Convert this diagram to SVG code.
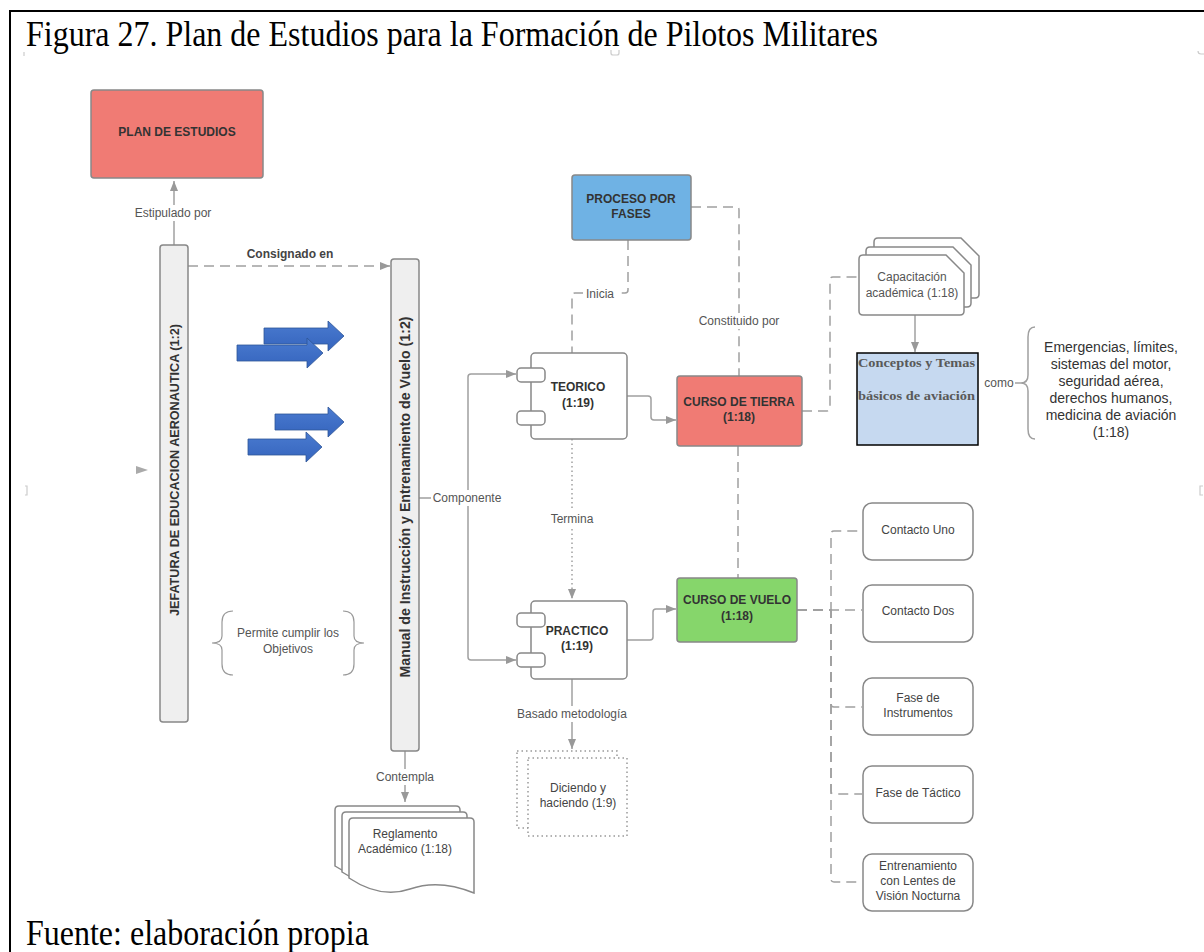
<svg xmlns="http://www.w3.org/2000/svg" width="1204" height="952" viewBox="0 0 1204 952">
<style>
.frame{stroke:#000;stroke-width:2;fill:none}
.cap{font-family:"Liberation Serif","Times New Roman",serif;font-size:32px;fill:#000}
.box{stroke:#888;stroke-width:1.5}
.bt{font-family:"Liberation Sans",Arial,sans-serif;font-size:12px;font-weight:bold;fill:#333;text-anchor:middle}
.lt{font-family:"Liberation Sans",Arial,sans-serif;font-size:12px;fill:#555;text-anchor:middle}
.nt{font-family:"Liberation Sans",Arial,sans-serif;font-size:12px;fill:#444;text-anchor:middle}
.ln{fill:none;stroke:#a0a0a0;stroke-width:1.5}
.dash{stroke-dasharray:10,6}
.dot{stroke-dasharray:1.5,3}
.lbg{fill:#fff}
.blue{fill:url(#bg);stroke:#2e5597;stroke-width:0.8}
.art{fill:none;stroke:#ccc;stroke-width:1.2}
.ct{font-family:"Liberation Serif","Times New Roman",serif;font-size:12.5px;font-weight:bold;fill:#595959}
</style>
<defs>
<marker id="ah" viewBox="0 0 10 10" refX="10" refY="5" markerWidth="11" markerHeight="10" markerUnits="userSpaceOnUse" orient="auto">
<path d="M0,1 L10,5 L0,9 Z" fill="#999"/>
</marker>
<linearGradient id="bg" x1="0" y1="0" x2="0" y2="1">
<stop offset="0" stop-color="#4a7bd0"/>
<stop offset="1" stop-color="#3564bd"/>
</linearGradient>
</defs>
<rect width="1204" height="952" fill="#fff"/>
<g id="frame">
<path class="frame" d="M10,952 V11 H1204"/>
</g>
<text class="cap" transform="translate(26,46) scale(1,1.1)">Figura 27. Plan de Estudios para la Formación de Pilotos Militares</text>
<text class="cap" transform="translate(26,945) scale(1,1.1)">Fuente: elaboración propia</text>

<g id="artifacts">
<path class="art" d="M24,52 v4"/>
<path class="art" d="M611,50 v3 q0,2 2,2 h4 q2,0 2,-2 v-3"/>
<path class="art" d="M1198,51 q0,3 3,3 h3"/>
<path class="art" d="M25,486 h2 v9 h-2"/>
<path class="art" d="M1203,486 h-3 v9 h3"/>
</g>

<g id="connectors">
<path class="ln" d="M174,245 V181" marker-end="url(#ah)"/>
<rect class="lbg" x="133" y="205" width="81" height="16"/>
<text class="lt" x="173" y="217">Estipulado por</text>

<path class="ln dash" d="M188,266 H390" marker-end="url(#ah)"/>
<text class="bt" x="290" y="258" style="fill:#444">Consignado en</text>

<path class="ln" d="M419,498 H468 V377 Q468,374 471,374 H516" marker-end="url(#ah)"/>
<path class="ln" d="M468,498 V657 Q468,660 471,660 H516" marker-end="url(#ah)"/>
<rect class="lbg" x="431" y="490" width="72" height="16"/>
<text class="lt" x="467" y="502">Componente</text>

<path class="ln dash" d="M628,240 V290 Q628,293 625,293 H575 Q572,293 572,296 V353"/>
<rect class="lbg" x="583" y="286" width="34" height="15"/>
<text class="lt" x="600" y="298">Inicia</text>

<path class="ln dash" d="M691,207 H736 Q739,207 739,210 V376"/>
<rect class="lbg" x="695" y="313" width="88" height="16"/>
<text class="lt" x="739" y="325">Constituido por</text>

<path class="ln" d="M627,396 H648 Q651,396 651,399 V417 Q651,420 654,420 H676" marker-end="url(#ah)"/>

<path class="ln dot" d="M572,439 V599" marker-end="url(#ah)"/>
<rect class="lbg" x="548" y="511" width="48" height="16"/>
<text class="lt" x="572" y="523">Termina</text>

<path class="ln dash" d="M738,446 V578"/>

<path class="ln dash" d="M802,411 H827 Q830,411 830,408 V280 Q830,277 833,277 H859"/>

<path class="ln" d="M915,315 V352" marker-end="url(#ah)"/>

<path class="ln" d="M1015,383 H1021"/>
<path class="ln" d="M1035,327 Q1028,327 1028,337 V375 Q1028,383 1021,383 Q1028,383 1028,391 V429 Q1028,439 1035,439"/>
<text class="lt" x="999" y="387">como</text>

<path class="ln" d="M627,640 H650 Q653,640 653,637 V612 Q653,609 656,609 H676" marker-end="url(#ah)"/>

<path class="ln dash" d="M797,610 H862"/>
<path class="ln dash" d="M797,610 H831 V534 Q831,531 834,531 H862"/>
<path class="ln dash" d="M797,610 H831 V704 Q831,707 834,707 H862"/>
<path class="ln dash" d="M797,610 H831 V791 Q831,794 834,794 H862"/>
<path class="ln dash" d="M797,610 H831 V879 Q831,882 834,882 H862"/>

<path class="ln" d="M572,679 V749" marker-end="url(#ah)"/>
<rect class="lbg" x="514" y="706" width="116" height="16"/>
<text class="lt" x="572" y="718">Basado metodología</text>

<path class="ln" d="M405,751 V802" marker-end="url(#ah)"/>
<rect class="lbg" x="373" y="769" width="64" height="16"/>
<text class="lt" x="405" y="781">Contempla</text>

<polygon points="136,466 148,470 136,474" fill="#aaa"/>
</g>

<g id="plan">
<rect class="box" x="91" y="90" width="172" height="88" rx="3" fill="#f07b74"/>
<text class="bt" x="177" y="136">PLAN DE ESTUDIOS</text>
</g>

<g id="jefatura">
<rect class="box" x="160" y="245" width="28" height="477" rx="3" fill="#efefef"/>
<text class="bt" transform="translate(174,470) rotate(-90)" y="4.5" style="font-size:13px" textLength="292" lengthAdjust="spacingAndGlyphs">JEFATURA DE EDUCACION AERONAUTICA (1:2)</text>
</g>

<g id="manual">
<rect class="box" x="391" y="259" width="28" height="492" rx="3" fill="#efefef"/>
<text class="bt" transform="translate(405,497) rotate(-90)" y="5" style="font-size:14px" textLength="361" lengthAdjust="spacingAndGlyphs">Manual de  Instrucción y Entrenamiento de Vuelo (1:2)</text>
</g>

<g id="blue-arrows">
<polygon class="blue" points="264,328 328,328 328,321 344,336 328,351 328,344 264,344"/>
<polygon class="blue" points="237,345 307,345 307,338 323,353 307,368 307,361 237,361"/>
<polygon class="blue" points="275,414 328,414 328,407 344,422 328,437 328,430 275,430"/>
<polygon class="blue" points="248,439 306,439 306,432 322,447 306,462 306,455 248,455"/>
</g>

<g id="permite">
<path class="ln" style="stroke:#999;stroke-width:1.2" d="M233,611 Q222,611 222,622 V636 Q222,643 212,643 Q222,643 222,650 V664 Q222,675 233,675"/>
<path class="ln" style="stroke:#999;stroke-width:1.2" d="M343,611 Q354,611 354,622 V636 Q354,643 364,643 Q354,643 354,650 V664 Q354,675 343,675"/>
<text class="lt" x="288" y="637">Permite cumplir los</text>
<text class="lt" x="288" y="653">Objetivos</text>
</g>

<g id="proceso">
<rect class="box" x="572" y="175" width="119" height="65" rx="3" fill="#6fb2e4"/>
<text class="bt" x="631" y="203">PROCESO POR</text>
<text class="bt" x="631" y="218">FASES</text>
</g>

<g id="teorico">
<rect class="box" x="531" y="353" width="96" height="86" rx="4" fill="#fff"/>
<rect class="box" x="517" y="368" width="28" height="14" rx="4" fill="#fff"/>
<rect class="box" x="517" y="411" width="28" height="14" rx="4" fill="#fff"/>
<text class="bt" x="578" y="391">TEORICO</text>
<text class="bt" x="578" y="407">(1:19)</text>
</g>

<g id="practico">
<rect class="box" x="531" y="601" width="96" height="78" rx="4" fill="#fff"/>
<rect class="box" x="517" y="613" width="28" height="14" rx="4" fill="#fff"/>
<rect class="box" x="517" y="653" width="28" height="14" rx="4" fill="#fff"/>
<text class="bt" x="577" y="635">PRACTICO</text>
<text class="bt" x="577" y="650">(1:19)</text>
</g>

<g id="curso-tierra">
<rect class="box" x="677" y="376" width="125" height="70" rx="3" fill="#f07b74"/>
<text class="bt" x="739" y="406">CURSO DE TIERRA</text>
<text class="bt" x="739" y="421">(1:18)</text>
</g>

<g id="curso-vuelo">
<rect class="box" x="677" y="578" width="120" height="64" rx="3" fill="#86d66b"/>
<text class="bt" x="737" y="604">CURSO DE VUELO</text>
<text class="bt" x="737" y="620">(1:18)</text>
</g>

<g id="capacitacion">
<path class="box" fill="#fff" transform="translate(15,-17)" d="M863,255 H946 L964,273 V311 Q964,315 960,315 H863 Q859,315 859,311 V259 Q859,255 863,255 Z"/>
<path class="box" fill="#fff" transform="translate(7,-8)" d="M863,255 H946 L964,273 V311 Q964,315 960,315 H863 Q859,315 859,311 V259 Q859,255 863,255 Z"/>
<path class="box" fill="#fff" d="M863,255 H946 L964,273 V311 Q964,315 960,315 H863 Q859,315 859,311 V259 Q859,255 863,255 Z"/>
<text class="lt" x="912" y="281">Capacitación</text>
<text class="lt" x="912" y="297">académica (1:18)</text>
</g>

<g id="conceptos">
<rect x="857" y="353" width="121" height="92" fill="#c6d9f0" stroke="#000" stroke-width="1.5"/>
<text class="ct" x="858" y="367" textLength="117" lengthAdjust="spacingAndGlyphs">Conceptos y Temas</text>
<text class="ct" x="858" y="400" textLength="117" lengthAdjust="spacingAndGlyphs">básicos de aviación</text>
</g>

<g id="emergencias">
<text class="nt" style="font-size:14px;fill:#333" x="1111" y="352">Emergencias, límites,</text>
<text class="nt" style="font-size:14px;fill:#333" x="1111" y="369">sistemas del motor,</text>
<text class="nt" style="font-size:14px;fill:#333" x="1111" y="386">seguridad aérea,</text>
<text class="nt" style="font-size:14px;fill:#333" x="1111" y="403">derechos humanos,</text>
<text class="nt" style="font-size:14px;fill:#333" x="1111" y="420">medicina de aviación</text>
<text class="nt" style="font-size:14px;fill:#333" x="1111" y="437">(1:18)</text>
</g>

<g id="contacto-uno">
<rect class="box" x="863" y="503" width="110" height="57" rx="9" fill="#fff"/>
<text class="nt" x="918" y="534">Contacto Uno</text>
</g>
<g id="contacto-dos">
<rect class="box" x="863" y="585" width="110" height="57" rx="9" fill="#fff"/>
<text class="nt" x="918" y="615">Contacto Dos</text>
</g>
<g id="instrumentos">
<rect class="box" x="863" y="678" width="110" height="57" rx="9" fill="#fff"/>
<text class="nt" x="918" y="702">Fase de</text>
<text class="nt" x="918" y="717">Instrumentos</text>
</g>
<g id="tactico">
<rect class="box" x="863" y="766" width="110" height="57" rx="9" fill="#fff"/>
<text class="nt" x="918" y="797">Fase de Táctico</text>
</g>
<g id="entrenamiento">
<rect class="box" x="863" y="854" width="110" height="57" rx="9" fill="#fff"/>
<text class="nt" x="918" y="870">Entrenamiento</text>
<text class="nt" x="918" y="885">con Lentes de</text>
<text class="nt" x="918" y="900">Visión Nocturna</text>
</g>

<g id="diciendo">
<rect x="517" y="751" width="100" height="77" fill="#fff" stroke="#999" stroke-width="1.5" stroke-dasharray="1.5,3"/>
<rect x="528" y="758" width="99" height="78" fill="#fff" stroke="#999" stroke-width="1.5" stroke-dasharray="1.5,3"/>
<text class="nt" x="578" y="792">Diciendo y</text>
<text class="nt" x="578" y="807">haciendo (1:9)</text>
</g>

<g id="reglamento">
<path class="box" fill="#fff" transform="translate(-14,-12)" d="M353,818 H470 Q474,818 474,822 V893 C452,884 430,882 410,889 C390,896 370,892 349,878 V822 Q349,818 353,818 Z"/>
<path class="box" fill="#fff" transform="translate(-7,-6)" d="M353,818 H470 Q474,818 474,822 V893 C452,884 430,882 410,889 C390,896 370,892 349,878 V822 Q349,818 353,818 Z"/>
<path class="box" fill="#fff" d="M353,818 H470 Q474,818 474,822 V893 C452,884 430,882 410,889 C390,896 370,892 349,878 V822 Q349,818 353,818 Z"/>
<text class="nt" x="405" y="838">Reglamento</text>
<text class="nt" x="405" y="853">Académico (1:18)</text>
</g>
</svg>
